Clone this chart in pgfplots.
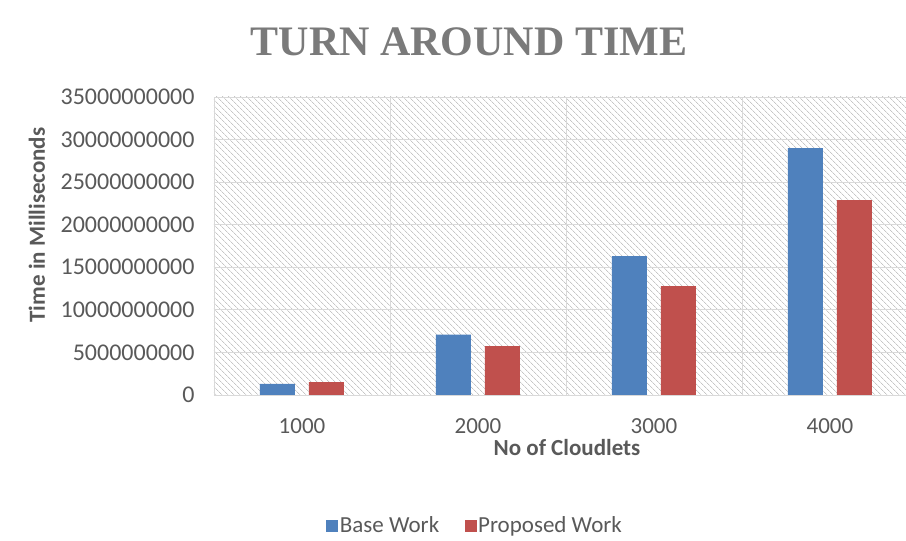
\documentclass[border=0pt]{standalone}
\usepackage{pgfplots}
\pgfplotsset{compat=1.18}
\usepackage{fontspec}
\setmainfont{Carlito}
\newfontfamily\titlefont{Liberation Serif}
\usetikzlibrary{patterns.meta}
\definecolor{basec}{HTML}{4F81BD}
\definecolor{propc}{HTML}{C0504D}
\definecolor{txtc}{HTML}{595959}
\definecolor{gridc}{HTML}{D9D9D9}
\definecolor{titlec}{HTML}{7A7A7A}
\begin{document}
\begin{tikzpicture}
\path[use as bounding box] (0pt,0pt) rectangle (906pt,541pt);
\begin{axis}[
  at={(214pt,146pt)}, anchor=south west,
  scale only axis, width=692pt, height=298pt,
  ybar=14pt, bar width=35pt,
  xmin=0.5, xmax=4.432,
  ymin=0, ymax=35e9,
  scaled y ticks=false,
  xtick={1,2,3,4},
  xticklabels={1000,2000,3000,4000},
  minor xtick={1.5,2.5,3.5},
  ytick={0,5e9,10e9,15e9,20e9,25e9,30e9,35e9},
  yticklabels={0,5000000000,10000000000,15000000000,20000000000,25000000000,30000000000,35000000000},
  /pgf/number format/assume math mode=true,
  major tick length=0pt, minor tick length=0pt,
  ymajorgrids, xminorgrids,
  grid style={draw=gridc, line width=0.8pt},
  minor grid style={draw=gridc, line width=0.8pt},
  axis line style={draw=gridc, line width=0.8pt},
  axis x line*=bottom, axis y line*=left,
  axis background/.style={pattern={Lines[angle=-45,distance=4pt,line width=0.7pt]}, pattern color=gray!45},
  yticklabel style={font=\fontsize{24}{26}\selectfont, text=txtc, xshift=-16pt},
  xticklabel style={font=\fontsize{23}{26}\selectfont, text=txtc, yshift=-20pt},
  legend style={at={(0.377,-0.438)}, anchor=center, draw=none, fill=none,
    legend columns=2, font=\fontsize{23}{26}\selectfont, text=txtc,
    /tikz/every even column/.append style={column sep=24pt},
    /tikz/every odd column/.append style={column sep=0pt},
    nodes={inner sep=1.5pt}},
  legend image code/.code={\fill[#1] (0pt,-6pt) rectangle (12pt,6pt);},
]
\addplot[fill=basec, draw=none] coordinates {(1,1.3e9) (2,7.1e9) (3,16.3e9) (4,29.0e9)};
\addplot[fill=propc, draw=none] coordinates {(1,1.5e9) (2,5.75e9) (3,12.8e9) (4,22.9e9)};
\legend{Base Work, Proposed Work}
\end{axis}
\node[font=\titlefont\bfseries\fontsize{42}{46}\selectfont, text=titlec] at (469pt,499pt) {TURN AROUND TIME};
\node[font=\bfseries\fontsize{23}{26}\selectfont, text=txtc, rotate=90] at (37pt,316pt) {Time in Milliseconds};
\node[font=\bfseries\fontsize{23}{26}\selectfont, text=txtc] at (567pt,93pt) {No of Cloudlets};
\end{tikzpicture}
\end{document}
